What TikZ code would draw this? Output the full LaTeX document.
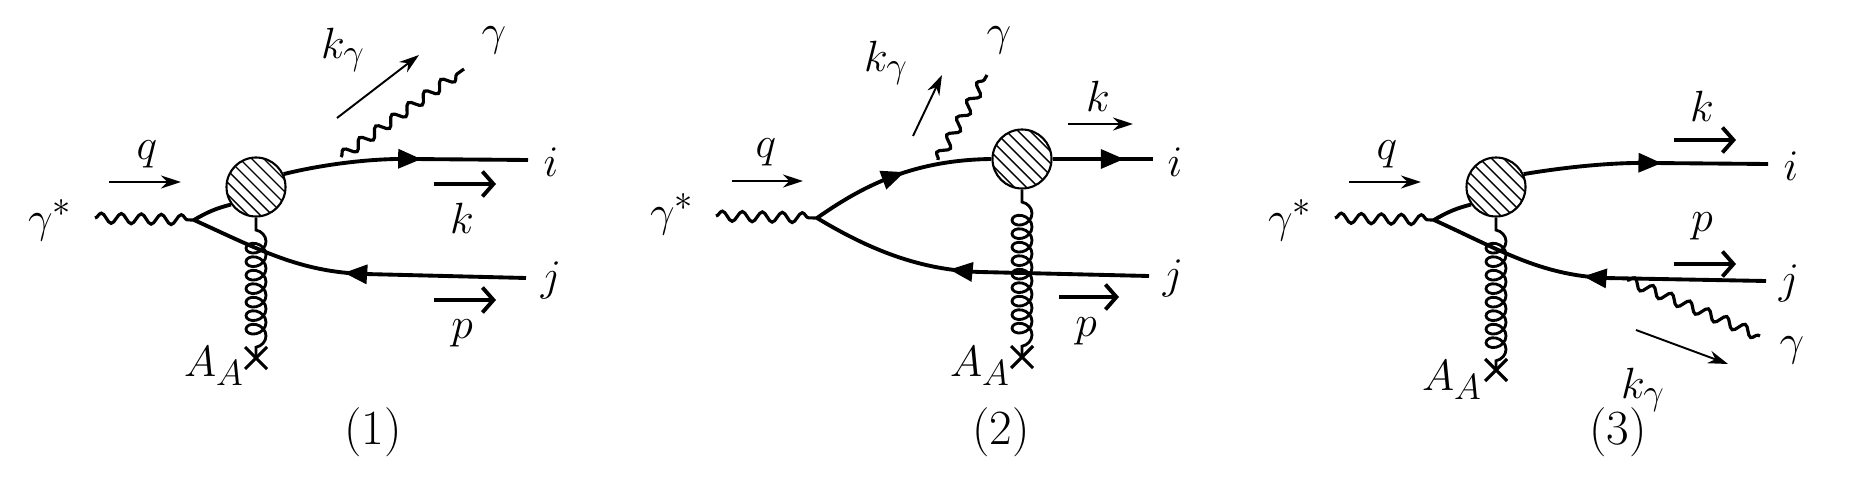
\documentclass[tikz,border=0pt]{standalone}
\usetikzlibrary{decorations.pathmorphing,decorations.markings,arrows.meta,calc}
\begin{document}
\begin{tikzpicture}[x=0.02cm,y=-0.02cm,
  ferm/.style={line width=2.2pt},
  photon/.style={line width=1.8pt,decorate,decoration={snake,segment length=0.4cm,amplitude=0.1cm}},
  gluon/.style={line width=1.6pt,decorate,decoration={coil,aspect=0.8,segment length=0.27cm,amplitude=0.2cm,pre length=0.25cm,post length=0.15cm}},
  mom/.style={line width=1.1pt,-{Stealth[length=0.4cm,width=0.26cm]}},
  momv/.style={line width=2.2pt,-{Straight Barb[length=0.22cm,width=0.5cm,line width=2.2pt]}},
  lab/.style={font=\fontsize{28}{32}\selectfont,inner sep=0pt},
  tip/.style={decoration={markings,mark=at position #1 with {\fill (0.22cm,0) -- (-0.24cm,0.2cm) -- (-0.24cm,-0.2cm) -- cycle;}},postaction={decorate}},
  rtip/.style={decoration={markings,mark=at position #1 with {\fill (-0.22cm,0) -- (0.24cm,0.2cm) -- (0.24cm,-0.2cm) -- cycle;}},postaction={decorate}},
  blob/.style={circle,draw,line width=1.2pt,minimum size=1.18cm,inner sep=0pt,fill=white,
    path picture={\foreach \t in {-6,...,6}{\draw[line width=0.8pt] ([xshift=\t*0.24cm-1cm,yshift=1cm]path picture bounding box.center) -- ++(2cm,-2cm);}}},
  xmark/.style={line width=1.8pt}
]
\useasboundingbox (0,0) rectangle (1849,486);

% ---------- Diagram 1 ----------
\begin{scope}
\coordinate (V1) at (194,220);
\coordinate (ws1) at (95,218);
\node[blob] (B1) at (256,187) {};
\coordinate (i1) at (528,160);
\coordinate (j1) at (526,278);
\coordinate (g1) at (256,358);
\coordinate (pe1) at (341,157);
\coordinate (pf1) at (464,69);
\draw[gluon] (B1.south) -- (g1);
\draw[photon] (ws1) -- (V1);
\draw[ferm] (V1) to[bend left=8] (B1.-145);
\draw[ferm,tip=0.52] (B1.25) .. controls (320,165) and (370,158) .. (413,159) -- (i1);
\draw[ferm,rtip=0.5] (V1) .. controls (260,250) and (300,272) .. (365,274) -- (j1);
\draw[photon] (pe1) -- (pf1);
\draw[xmark] ($(g1)+(-11,-11)$) -- ($(g1)+(11,11)$) ($(g1)+(-11,11)$) -- ($(g1)+(11,-11)$);
\coordinate (ka1) at (337,118); \coordinate (kb1) at (419,55);
\draw[mom] (ka1) -- (kb1);
\coordinate (qa1) at (109,182); \coordinate (qb1) at (181,182);
\draw[mom] (qa1) -- (qb1);
\coordinate (kk1) at (434,184); \coordinate (kl1) at (496,184);
\draw[momv] (kk1) -- (kl1);
\coordinate (pa1) at (434,300); \coordinate (pb1) at (496,300);
\draw[momv] (pa1) -- (pb1);
\node[lab] (gs1) at (50,220) {$\gamma^*$};
\node[lab] (q1) at (147,154) {$q$};
\node[lab] (kg1) at (343,50) {$k_\gamma$};
\node[lab] (ga1) at (494,40) {$\gamma$};
\node[lab] (k1) at (462,218) {$k$};
\node[lab] (p1) at (462,333) {$p$};
\node[lab] (il1) at (551,162) {$i$};
\node[lab] (jl1) at (551,280) {$j$};
\node[lab] (AA1) at (214,366) {$A_A$};
\node[lab] (n1) at (373,432) {(1)};
\end{scope}

% ---------- Diagram 2 ----------
\begin{scope}
\coordinate (V2) at (817,218);
\coordinate (ws2) at (716,216);
\node[blob] (B2) at (1022,159) {};
\coordinate (i2) at (1153,159);
\coordinate (j2) at (1149,276);
\coordinate (g2) at (1022,357);
\coordinate (pe2) at (938,160);
\coordinate (pf2) at (987,75);
\draw[photon] (ws2) -- (V2);
\draw[ferm,tip=0.47] (V2) .. controls (860,188) and (910,160) .. (B2.west);
\draw[ferm,tip=0.6] (B2.east) -- (i2);
\draw[ferm,rtip=0.45] (V2) .. controls (870,250) and (920,270) .. (980,272) -- (j2);
\draw[gluon] (B2.south) -- (g2);
\draw[photon] (pe2) -- (pf2);
\draw[xmark] ($(g2)+(-11,-11)$) -- ($(g2)+(11,11)$) ($(g2)+(-11,11)$) -- ($(g2)+(11,-11)$);
\coordinate (ka2) at (913,136); \coordinate (kb2) at (942,75);
\draw[mom] (ka2) -- (kb2);
\coordinate (qa2) at (732,181); \coordinate (qb2) at (803,181);
\draw[mom] (qa2) -- (qb2);
\coordinate (kk2) at (1068,124); \coordinate (kl2) at (1133,124);
\draw[mom] (kk2) -- (kl2);
\coordinate (pa2) at (1059,297); \coordinate (pb2) at (1119,297);
\draw[momv] (pa2) -- (pb2);
\node[lab] (gs2) at (672,214) {$\gamma^*$};
\node[lab] (q2) at (766,152) {$q$};
\node[lab] (kg2) at (886,63) {$k_\gamma$};
\node[lab] (ga2) at (999,40) {$\gamma$};
\node[lab] (k2) at (1098,96) {$k$};
\node[lab] (p2) at (1086,331) {$p$};
\node[lab] (il2) at (1175,162) {$i$};
\node[lab] (jl2) at (1173,278) {$j$};
\node[lab] (AA2) at (980,366) {$A_A$};
\node[lab] (n2) at (1001,432) {(2)};
\end{scope}

% ---------- Diagram 3 ----------
\begin{scope}
\coordinate (V3) at (1434,220);
\coordinate (ws3) at (1335,218);
\node[blob] (B3) at (1496,187) {};
\coordinate (i3) at (1768,164);
\coordinate (j3) at (1766,281);
\coordinate (g3) at (1496,370);
\coordinate (pe3) at (1627,280);
\coordinate (pf3) at (1760,336);
\draw[gluon] (B3.south) -- (g3);
\draw[photon] (ws3) -- (V3);
\draw[ferm] (V3) to[bend left=8] (B3.-145);
\draw[ferm,tip=0.52] (B3.25) .. controls (1560,168) and (1610,162) .. (1653,163) -- (i3);
\draw[ferm,rtip=0.5] (V3) .. controls (1500,250) and (1540,275) .. (1605,278) -- (j3);
\draw[photon] (pe3) -- (pf3);
\draw[xmark] ($(g3)+(-11,-11)$) -- ($(g3)+(11,11)$) ($(g3)+(-11,11)$) -- ($(g3)+(11,-11)$);
\coordinate (ka3) at (1636,330); \coordinate (kb3) at (1728,364);
\draw[mom] (ka3) -- (kb3);
\coordinate (qa3) at (1349,182); \coordinate (qb3) at (1421,182);
\draw[mom] (qa3) -- (qb3);
\coordinate (kk3) at (1674,140); \coordinate (kl3) at (1736,140);
\draw[momv] (kk3) -- (kl3);
\coordinate (pa3) at (1674,264); \coordinate (pb3) at (1736,264);
\draw[momv] (pa3) -- (pb3);
\node[lab] (gs3) at (1290,220) {$\gamma^*$};
\node[lab] (q3) at (1387,154) {$q$};
\node[lab] (kg3) at (1643,390) {$k_\gamma$};
\node[lab] (ga3) at (1792,350) {$\gamma$};
\node[lab] (k3) at (1702,106) {$k$};
\node[lab] (p3) at (1702,226) {$p$};
\node[lab] (il3) at (1791,166) {$i$};
\node[lab] (jl3) at (1789,283) {$j$};
\node[lab] (AA3) at (1452,380) {$A_A$};
\node[lab] (n3) at (1618,432) {(3)};
\end{scope}
\end{tikzpicture}
\end{document}
